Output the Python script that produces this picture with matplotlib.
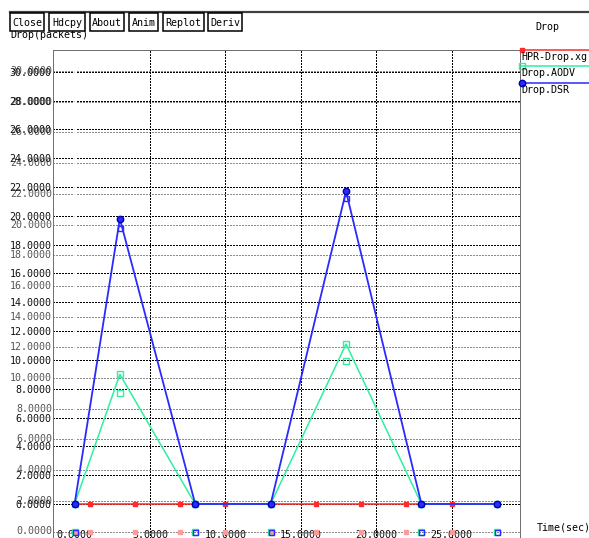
import matplotlib
matplotlib.use('Agg')
import matplotlib.pyplot as plt
from matplotlib.patches import Rectangle
from matplotlib.lines import Line2D

W, H = 589, 538

# ---------------- data ----------------
time_hpr = [0, 1, 4, 7, 10, 13, 16, 19, 22, 25]
drop_hpr = [0, 0, 0, 0, 0, 0, 0, 0, 0, 0]
time_aodv = [0, 3, 8, 13, 18, 23, 28]
drop_aodv = [0, 9.0, 0, 0, 11.1, 0, 0]
time_dsr = [0, 3, 8, 13, 18, 23, 28]
drop_dsr = [0, 19.8, 0, 0, 21.7, 0, 0]
y_ticks = list(range(0, 31, 2))
x_ticks = [0, 5, 10, 15, 20, 25]
series_names = ['HPR-Drop.xg', 'Drop.AODV', 'Drop.DSR']
buttons = ['Close', 'Hdcpy', 'About', 'Anim', 'Replot', 'Deriv']
title = 'Drop'
y_label = 'Drop(packets)'
x_label = 'Time(sec)'

# ---------------- style ----------------
RED = '#ff2a2a'
GREEN = '#2ff0a0'
BLUE = '#2a2aff'
MONO = 'DejaVu Sans Mono'
FS = 7.2

def fx(px):
    return px / W

def fy(py):
    return 1 - py / H

# ghost (second, slightly offset frame) expressed in main-frame units
def ghost(v):
    return (-27.5 + 15.35 * v) / 14.41

fig = plt.figure(figsize=(W / 100, H / 100), dpi=100)
fig.patch.set_facecolor('white')

ax = fig.add_axes([fx(53), fy(538), fx(520) - fx(53), fy(50) - fy(538)])
ax.set_xlim((53 - 74.6) / 15.08, (520 - 74.6) / 15.08)
ax.set_ylim((504 - 538) / 14.41, (504 - 50) / 14.41)

for s in ['left', 'right', 'top']:
    ax.spines[s].set_color('#707070')
    ax.spines[s].set_linewidth(1.0)
    ax.spines[s].set_linestyle((0, (1, 1)))
    ax.spines[s].set_antialiased(False)
ax.spines['bottom'].set_visible(False)

# ghost horizontal grid
for v in y_ticks:
    ax.axhline(ghost(v), color='#8c8c8c', lw=1.0, ls=(0, (1, 1)), zorder=1, antialiased=False)
# main horizontal grid
for v in y_ticks:
    ax.axhline(v, color='black', lw=1.0, ls=(0, (1, 1)), zorder=1.2, antialiased=False)
# vertical grid
for v in x_ticks[1:]:
    ax.axvline(v, color='black', lw=1.0, ls=(0, (1, 1)), zorder=1.2, antialiased=False)
ax.axvline(0, color='white', lw=1.8, zorder=1.5)

# y ticks (main) and ghost labels
ax.set_yticks(y_ticks)
ax.set_yticklabels([f'{v:.4f}' for v in y_ticks], fontfamily=MONO, fontsize=FS, color='#111111')
ax.tick_params(axis='y', length=0, pad=1)
for v in y_ticks:
    ax.text(-0.002, ghost(v), f'{v:.4f}', transform=ax.get_yaxis_transform(),
            ha='right', va='center', fontfamily=MONO, fontsize=FS, color='#555555', zorder=0.5)

# x ticks
ax.set_xticks(x_ticks)
ax.set_xticklabels([f'{v:.4f}' for v in x_ticks], fontfamily=MONO, fontsize=FS, color='#111111')
ax.tick_params(axis='x', length=0, pad=-5.4)

# ghost markers
ax.plot(time_hpr, [ghost(v) for v in drop_hpr], ls='none', marker='s', ms=2.6,
        mfc='#ff9a9a', mec='#ff9a9a', zorder=2)
ax.plot(time_aodv, [ghost(v) for v in drop_aodv], ls='none', marker='s', ms=4,
        mfc='none', mec=GREEN, mew=1, zorder=2)
ax.plot(time_dsr, [ghost(v) for v in drop_dsr], ls='none', marker='s', ms=3.6,
        mfc='none', mec=BLUE, mew=1, zorder=2)

# main series
ax.plot(time_hpr, drop_hpr, color=RED, lw=1.1, marker='s', ms=2.6, mfc=RED, mec=RED, zorder=3)
ax.plot(time_aodv, drop_aodv, color=GREEN, lw=1.1, marker='s', ms=4.2, mfc='none', mec=GREEN,
        mew=1, zorder=3.1)
ax.plot(time_dsr, drop_dsr, color=BLUE, lw=1.3, marker='o', ms=4.6, mfc=BLUE, mec='#0000aa',
        mew=1, zorder=3.2)

# ---------------- figure decorations ----------------
fig.add_artist(Line2D([fx(10), 1], [fy(12), fy(12)], color='#404040', lw=1.6))

fig.text(fx(10), fy(38.5), y_label, fontfamily=MONO, fontsize=FS, va='baseline', ha='left',
         zorder=4)

btn_x = [10, 49, 90, 129, 163, 208]
btn_w = [34, 36, 34, 29, 41, 34]
for name, bx, bw in zip(buttons, btn_x, btn_w):
    fig.add_artist(Rectangle((fx(bx), fy(31)), bw / W, 17.5 / H, transform=fig.transFigure,
                             facecolor='white', edgecolor='black', lw=1.1, zorder=5))
    fig.text(fx(bx + bw / 2), fy(22.5), name, fontfamily=MONO, fontsize=FS, ha='center',
             va='center', zorder=6)

fig.text(fx(547), fy(27), title, fontfamily=MONO, fontsize=FS, ha='center', va='center')
fig.text(fx(537), fy(527), x_label, fontfamily=MONO, fontsize=FS, ha='left', va='center')

# legend
leg_colors = [RED, GREEN, BLUE]
leg_y = [50, 66, 83]
leg_markers = [dict(marker='s', ms=2.6, mfc=RED, mec=RED),
               dict(marker='s', ms=4.2, mfc='none', mec=GREEN),
               dict(marker='o', ms=4.6, mfc=BLUE, mec='#0000aa')]
for name, c, ly, mk in zip(series_names, leg_colors, leg_y, leg_markers):
    fig.add_artist(Line2D([fx(521), 1], [fy(ly), fy(ly)], color=c, lw=1.1))
    fig.add_artist(Line2D([fx(522)], [fy(ly)], ls='none', **mk))
    fig.text(fx(521.5), fy(ly + 2), name, fontfamily=MONO, fontsize=FS, ha='left', va='top')

fig.savefig('out.png', dpi=100)
